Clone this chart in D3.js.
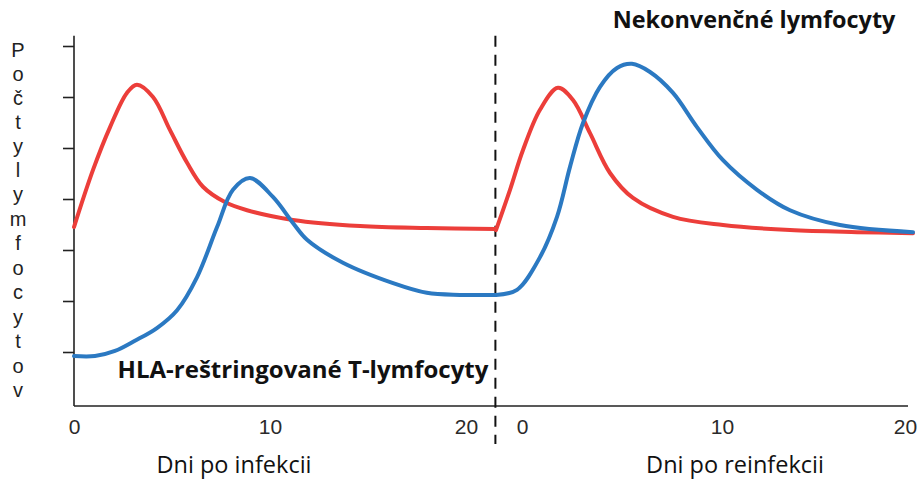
<!DOCTYPE html>
<html>
<head>
<meta charset="utf-8">
<script src="https://cdn.jsdelivr.net/npm/d3@7"></script>
<style>
  html, body { margin: 0; padding: 0; background: #fff; }
  svg { display: block; }
</style>
</head>
<body>
<svg id="chart" width="921" height="485"></svg>
<script>
// Primary infection: days after infection
const infectionDays   = [0, 0.97, 1.84, 2.7, 3.21, 4.03, 4.9, 5.77, 6.58, 7.7, 8.83, 11.17, 14.6, 18.0, 21.5];
const infectionInnate = [3.45, 4.57, 5.41, 6.08, 6.24, 6.0, 5.35, 4.71, 4.24, 3.94, 3.78, 3.59, 3.47, 3.43, 3.41];

const infectionDaysT  = [0, 1.07, 2.09, 3.11, 4.23, 5.26, 6.28, 7.3, 8.11, 8.98, 10.15, 11.17, 11.89, 13.72, 16.28, 18.0, 19.69, 21.5];
const infectionHLA    = [0.92, 0.92, 1.02, 1.22, 1.47, 1.82, 2.47, 3.45, 4.18, 4.41, 4.04, 3.53, 3.2, 2.75, 2.35, 2.16, 2.12, 2.12];

// Reinfection: days after reinfection
const reinfectionDays   = [-1.3, -0.6, 0.05, 0.9, 1.8, 2.55, 3.4, 4.4, 5.55, 7.55, 10.05, 13.4, 16.75, 19.55];
const reinfectionInnate = [3.39, 4.18, 4.96, 5.75, 6.18, 5.94, 5.29, 4.51, 4.02, 3.65, 3.49, 3.39, 3.35, 3.33];

const reinfectionDaysT  = [-1.3, -0.25, 0.9, 1.75, 2.4, 3.05, 3.9, 4.75, 5.5, 6.4, 7.55, 8.75, 10.05, 11.75, 13.4, 15.9, 19.55];
const reinfectionHLA    = [2.12, 2.22, 2.86, 3.65, 4.63, 5.49, 6.2, 6.57, 6.65, 6.49, 6.08, 5.41, 4.76, 4.18, 3.78, 3.49, 3.35];

const xTickValues = [0, 10, 20];
const yTickValues = [1, 2, 3, 4, 5, 6, 7];
const yLabelWords = ["Počty", "lymfocytov"];

const boundaryLeftDay = 21.5;   // end of the infection panel

const RED = "#ec3e3a";
const BLUE = "#2b79c2";
const INK = "#222";

const svg = d3.select("#chart");

const xLeft  = d3.scaleLinear().domain([0, 20]).range([74, 466]);
const xRight = d3.scaleLinear().domain([0, 20]).range([522, 922]);
const y = d3.scaleLinear().domain([0, 7]).range([403, 46]);

const yMin = -0.06, yMax = 7.2;
const axisRightEnd = xRight(19.3);

// Y axis
const yAxis = d3.axisLeft(y).tickValues(yTickValues).tickSize(11).tickFormat("");
const yg = svg.append("g").attr("transform", `translate(${xLeft(0)},0)`).call(yAxis);
yg.select(".domain").remove();
yg.selectAll(".tick line").attr("stroke", INK).attr("stroke-width", 1.6);
svg.append("line")
  .attr("x1", xLeft(0)).attr("x2", xLeft(0))
  .attr("y1", y(yMax)).attr("y2", y(yMin))
  .attr("stroke", INK).attr("stroke-width", 1.6);

// X axis baseline across both panels
svg.append("line")
  .attr("x1", xLeft(0)).attr("x2", axisRightEnd)
  .attr("y1", y(yMin)).attr("y2", y(yMin))
  .attr("stroke", INK).attr("stroke-width", 1.6);

// Tick labels (no tick marks)
function tickLabels(scale, lastShift) {
  const ax = d3.axisBottom(scale).tickValues(xTickValues).tickSize(0).tickPadding(0);
  const g = svg.append("g").attr("transform", `translate(0,${y(yMin) + 28})`).call(ax);
  g.select(".domain").remove();
  g.selectAll("text")
    .attr("y", 0).attr("dy", 0)
    .attr("fill", "#2a2a2a")
    .style("font-family", "'Liberation Sans', Arial, sans-serif")
    .style("font-size", "21px");
  // keep the last label inside the frame
  g.selectAll(".tick").filter(d => d === 20).select("text").attr("dx", lastShift);
}
tickLabels(xLeft, 0);
tickLabels(xRight, -17);

// Separator between infection and reinfection
svg.append("line")
  .attr("x1", xLeft(boundaryLeftDay)).attr("x2", xLeft(boundaryLeftDay))
  .attr("y1", y(yMax)).attr("y2", 444)
  .attr("stroke", "#111").attr("stroke-width", 2)
  .attr("stroke-dasharray", "11,8");

// Curves
function curve(xs, vs, scale, color) {
  const pts = xs.map((d, i) => [scale(d), y(vs[i])]);
  svg.append("path")
    .attr("d", d3.line().curve(d3.curveCatmullRom.alpha(0.5))(pts))
    .attr("fill", "none")
    .attr("stroke", color)
    .attr("stroke-width", 4)
    .attr("stroke-linejoin", "round")
    .attr("stroke-linecap", "round");
}
curve(infectionDays, infectionInnate, xLeft, RED);
curve(reinfectionDays, reinfectionInnate, xRight, RED);
curve(infectionDaysT, infectionHLA, xLeft, BLUE);
curve(reinfectionDaysT, reinfectionHLA, xRight, BLUE);

// Axis titles
const titleFont = "'Open Sans', 'Noto Sans', sans-serif";
svg.append("text")
  .attr("x", 234).attr("y", 473)
  .attr("text-anchor", "middle")
  .attr("fill", "#111")
  .style("font-family", titleFont).style("font-size", "23.5px")
  .text("Dni po infekcii");
svg.append("text")
  .attr("x", 735).attr("y", 473)
  .attr("text-anchor", "middle")
  .attr("fill", "#111")
  .style("font-family", titleFont).style("font-size", "23.5px")
  .text("Dni po reinfekcii");

// Series labels
svg.append("text")
  .attr("x", 754).attr("y", 28)
  .attr("text-anchor", "middle")
  .attr("fill", "#111")
  .style("font-family", titleFont).style("font-size", "23.4px").style("font-weight", "bold")
  .text("Nekonvenčné lymfocyty");
svg.append("text")
  .attr("x", 303).attr("y", 378)
  .attr("text-anchor", "middle")
  .attr("fill", "#111")
  .style("font-family", titleFont).style("font-size", "24px").style("font-weight", "bold")
  .text("HLA-reštringované T-lymfocyty");

// Vertical y-axis title: letters stacked top to bottom, words spread
// evenly along the axis height
const letters = [];
const wordTop = [57, 177], wordBottom = [153, 397];
yLabelWords.forEach((w, wi) => {
  const chars = Array.from(w);
  const step = (wordBottom[wi] - wordTop[wi]) / (chars.length - 1);
  chars.forEach((c, i) => letters.push({ c, y: wordTop[wi] + i * step }));
});
svg.append("text")
  .attr("text-anchor", "middle")
  .attr("fill", INK)
  .style("font-family", "'Liberation Sans', Arial, sans-serif")
  .style("font-size", "20px")
  .selectAll("tspan")
  .data(letters)
  .join("tspan")
  .attr("x", 18)
  .attr("y", d => d.y)
  .text(d => d.c);
</script>
</body>
</html>
